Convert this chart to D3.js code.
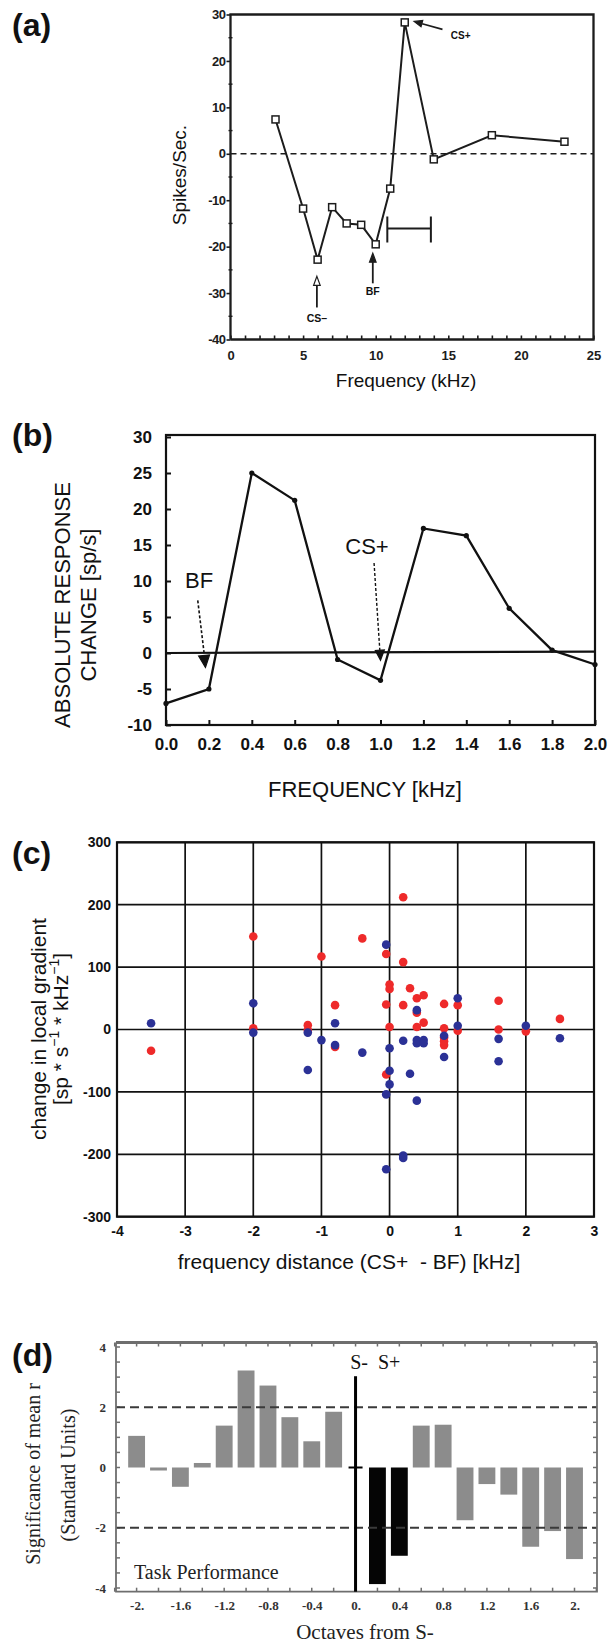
<!DOCTYPE html>
<html><head><meta charset="utf-8">
<script src="https://cdn.jsdelivr.net/npm/d3@7"></script>
<style>body{margin:0;background:#fff} svg{display:block}</style>
</head><body>
<svg id="fig" width="612" height="1643"></svg>
<script>
// ---------------- DATA ----------------
// (a) tuning-curve change
const aFreq   = [3.1, 5, 6, 7, 8, 9, 10, 11, 12, 14, 18, 23];
const aSpikes = [7.4, -11.8, -22.8, -11.5, -15.0, -15.3, -19.5, -7.5, 28.3, -1.2, 4.0, 2.6];
const aXTicks = [0, 5, 10, 15, 20, 25];
const aYTicks = [-40, -30, -20, -10, 0, 10, 20, 30];

// (b) absolute response change
const bFreq   = [0.0, 0.2, 0.4, 0.6, 0.8, 1.0, 1.2, 1.4, 1.6, 1.8, 2.0];
const bChange = [-7.0, -5.0, 25.0, 21.2, -0.9, -3.8, 17.3, 16.3, 6.2, 0.4, -1.6];
const bXTicks = [0.0, 0.2, 0.4, 0.6, 0.8, 1.0, 1.2, 1.4, 1.6, 1.8, 2.0];
const bYTicks = [-10, -5, 0, 5, 10, 15, 20, 25, 30];

// (c) change in local gradient
const cRedX  = [-3.5, -2.0, -2.0, -1.2, -1.2, -1.0, -0.8, -0.8, -0.4, -0.05, -0.05, -0.05, 0.0, 0.0, 0.0, 0.2, 0.2, 0.2, 0.3, 0.4, 0.4, 0.4, 0.5, 0.5, 0.8, 0.8, 0.8, 0.8, 0.8, 1.0, 1.0, 1.6, 1.6, 2.0, 2.5];
const cRedY  = [-34, 149, 2, 7, -1, 117, 39, -28, 146, 121, 40, -72, 72, 65, 4, 212, 108, 39, 66, 50, 27, 4, 55, 11, 41, 2, -13, -19, -25, 39, -2, 46, 0, -3, 17];
const cBlueX = [-3.5, -2.0, -2.0, -1.2, -1.2, -1.0, -0.8, -0.8, -0.4, -0.05, -0.05, -0.05, 0.0, 0.0, 0.0, 0.2, 0.2, 0.2, 0.3, 0.4, 0.4, 0.4, 0.4, 0.5, 0.5, 0.8, 0.8, 1.0, 1.0, 1.6, 1.6, 2.0, 2.5];
const cBlueY = [10, 42, -5, -5, -65, -17, 10, -25, -37, 136, -104, -224, -30, -66, -88, -18, -202, -206, -71, 31, -17, -22, -114, -17, -22, -10, -44, 50, 6, -15, -51, 6, -14];
const cXTicks = [-4, -3, -2, -1, 0, 1, 2, 3];
const cYTicks = [-300, -200, -100, 0, 100, 200, 300];

// (d) significance of mean r
const dOctaves = [-2.0, -1.8, -1.6, -1.4, -1.2, -1.0, -0.8, -0.6, -0.4, -0.2, 0.2, 0.4, 0.6, 0.8, 1.0, 1.2, 1.4, 1.6, 1.8, 2.0];
const dSignif  = [1.05, -0.1, -0.64, 0.15, 1.39, 3.22, 2.72, 1.67, 0.87, 1.85, -3.87, -2.93, 1.39, 1.42, -1.75, -0.55, -0.9, -2.63, -2.11, -3.04];
const dHighlight = [0.2, 0.4];
const dXTicks = [-2, -1.6, -1.2, -0.8, -0.4, 0, 0.4, 0.8, 1.2, 1.6, 2];
const dXTickLabels = ['-2.', '-1.6', '-1.2', '-0.8', '-0.4', '0.', '0.4', '0.8', '1.2', '1.6', '2.'];
const dYTicks = [-4, -2, 0, 2, 4];

const panelLabels = ['(a)', '(b)', '(c)', '(d)'];

// ---------------- DRAW ----------------
const SANS = "'Liberation Sans', Arial, Helvetica, sans-serif";
const SERIF = "'Liberation Serif', 'Times New Roman', serif";
const svg = d3.select('#fig');

function txt(g, x, y, s, o = {}) {
  const t = g.append('text').attr('x', x).attr('y', y).text(s)
    .attr('font-family', o.font || SANS).attr('font-size', o.size || 14)
    .attr('font-weight', o.weight || 'normal').attr('fill', o.fill || '#111')
    .attr('text-anchor', o.anchor || 'middle');
  if (o.rotate) t.attr('transform', `rotate(${o.rotate},${x},${y})`);
  if (o.baseline) t.attr('dominant-baseline', o.baseline);
  return t;
}
function head(g, x1, y1, x2, y2, len, half, fill, stroke) {
  const a = Math.atan2(y2 - y1, x2 - x1);
  const bx = x2 - len * Math.cos(a), by = y2 - len * Math.sin(a);
  const px = -Math.sin(a) * half, py = Math.cos(a) * half;
  g.append('path').attr('d', `M${x2},${y2}L${bx + px},${by + py}L${bx - px},${by - py}Z`)
    .attr('fill', fill).attr('stroke', stroke || fill).attr('stroke-width', 1.2);
}
function styleAxis(sel, font, size, weight, color, sw) {
  sel.select('.domain').remove();
  sel.selectAll('text').attr('font-family', font).attr('font-size', size)
     .attr('font-weight', weight).attr('fill', color);
  sel.selectAll('line').attr('stroke', color).attr('stroke-width', sw);
}

// panel letters
const letterY = [36, 446, 864, 1366];
panelLabels.forEach((s, i) => txt(svg, 12, letterY[i], s, {size: 32, weight: 'bold', anchor: 'start'}));

// ===== (a) =====
{
  const g = svg.append('g');
  const x = d3.scaleLinear().domain([0, 25]).range([230.5, 593.5]);
  const y = d3.scaleLinear().domain([-40, 30]).range([339.5, 14.5]);
  const ink = '#1c1c1c';
  // left axis
  const la = g.append('g').attr('transform', `translate(${x(0)},0)`)
    .call(d3.axisLeft(y).tickValues(aYTicks).tickSize(4).tickPadding(1).tickFormat(d => String(d)));
  styleAxis(la, SANS, 13, 'bold', ink, 1.6);
  la.selectAll('text').attr('letter-spacing', '-0.5');
  // minor y ticks
  g.selectAll('.my').data(d3.range(-35, 30, 10)).join('line')
    .attr('x1', x(0) - 2).attr('x2', x(0) + 2).attr('y1', d => y(d)).attr('y2', d => y(d))
    .attr('stroke', ink).attr('stroke-width', 1.4);
  // bottom axis (inward ticks every kHz)
  const ba = g.append('g').attr('transform', `translate(0,${y(-40)})`)
    .call(d3.axisBottom(x).tickValues(d3.range(0, 26)).tickSizeInner(-4).tickSizeOuter(0).tickPadding(11)
      .tickFormat(d => aXTicks.includes(d) ? String(d) : ''));
  styleAxis(ba, SANS, 13, 'bold', ink, 1.6);
  // frame
  g.append('path').attr('d', `M${x(0)},${y(-40)}V${y(30)}H${x(25)}V${y(-40)}H${x(0)}`)
    .attr('fill', 'none').attr('stroke', ink).attr('stroke-width', 2.3);
  // zero dashed line
  g.append('line').attr('x1', x(0)).attr('x2', x(25)).attr('y1', y(0)).attr('y2', y(0))
    .attr('stroke', ink).attr('stroke-width', 1.6).attr('stroke-dasharray', '6,4');
  // data line + squares
  const pts = aFreq.map((f, i) => [f, aSpikes[i]]);
  g.append('path').datum(pts).attr('d', d3.line().x(d => x(d[0])).y(d => y(d[1])))
    .attr('fill', 'none').attr('stroke', ink).attr('stroke-width', 2);
  g.selectAll('.sq').data(pts).join('rect')
    .attr('x', d => x(d[0]) - 3.5).attr('y', d => y(d[1]) - 3.5).attr('width', 7).attr('height', 7)
    .attr('fill', '#fff').attr('stroke', ink).attr('stroke-width', 1.5);
  // scale bar
  g.append('path').attr('d', `M${x(10.8)},${y(-13.5)}V${y(-19.1)}M${x(10.8)},${y(-16.1)}H${x(13.8)}M${x(13.8)},${y(-13.5)}V${y(-19.1)}`)
    .attr('fill', 'none').attr('stroke', ink).attr('stroke-width', 2);
  // CS+ arrow
  g.append('line').attr('x1', x(14.6)).attr('y1', y(26.8)).attr('x2', x(13.2)).attr('y2', y(28.0))
    .attr('stroke', ink).attr('stroke-width', 1.6);
  head(g, x(14.6), y(26.8), x(12.65), y(28.5), 8, 3.2, ink);
  txt(g, x(15.85), y(25.3), 'CS+', {size: 10, weight: 'bold', baseline: 'middle'});
  // CS- open arrow
  g.append('line').attr('x1', x(5.95)).attr('y1', y(-33.1)).attr('x2', x(5.95)).attr('y2', y(-28.3))
    .attr('stroke', ink).attr('stroke-width', 1.8);
  head(g, x(5.95), y(-33), x(5.95), y(-26.4), 9, 3.3, '#fff', ink);
  txt(g, x(5.95), y(-35.6), 'CS\u2013', {size: 10.5, weight: 'bold', baseline: 'middle'});
  // BF arrow
  g.append('line').attr('x1', x(9.8)).attr('y1', y(-27.9)).attr('x2', x(9.8)).attr('y2', y(-23))
    .attr('stroke', ink).attr('stroke-width', 1.8);
  head(g, x(9.8), y(-27.9), x(9.8), y(-21.4), 9, 3.3, ink);
  txt(g, x(9.8), y(-29.9), 'BF', {size: 10.5, weight: 'bold', baseline: 'middle'});
  // titles
  txt(g, 181, 175, 'Spikes/Sec.', {size: 19, rotate: -90, baseline: 'middle'});
  txt(g, 406, 387, 'Frequency (kHz)', {size: 19});
}

// ===== (b) =====
{
  const g = svg.append('g');
  const x = d3.scaleLinear().domain([0, 2]).range([166, 595]);
  const y = d3.scaleLinear().domain([-10, 30]).range([725, 437]);
  const ink = '#111';
  const la = g.append('g').attr('transform', `translate(${x(0)},0)`)
    .call(d3.axisLeft(y).tickValues(bYTicks).tickSizeInner(-5).tickSizeOuter(0).tickPadding(14).tickFormat(d => String(d)));
  styleAxis(la, SANS, 17, 'bold', ink, 2);
  const ba = g.append('g').attr('transform', `translate(0,${y(-10)})`)
    .call(d3.axisBottom(x).tickValues(bXTicks).tickSizeInner(-5).tickSizeOuter(0).tickPadding(13).tickFormat(d3.format('.1f')));
  styleAxis(ba, SANS, 17, 'bold', ink, 2);
  g.append('rect').attr('x', x(0)).attr('y', 435).attr('width', x(2) - x(0)).attr('height', y(-10) - 435)
    .attr('fill', 'none').attr('stroke', ink).attr('stroke-width', 2.2);
  g.append('line').attr('x1', x(0)).attr('x2', x(2)).attr('y1', y(0)).attr('y2', y(0.2))
    .attr('stroke', ink).attr('stroke-width', 2.2);
  const pts = bFreq.map((f, i) => [f, bChange[i]]);
  g.append('path').datum(pts).attr('d', d3.line().x(d => x(d[0])).y(d => y(d[1])))
    .attr('fill', 'none').attr('stroke', ink).attr('stroke-width', 2.3);
  g.selectAll('.dot').data(pts).join('circle').attr('cx', d => x(d[0])).attr('cy', d => y(d[1]))
    .attr('r', 2.6).attr('fill', ink);
  // BF
  txt(g, x(0.154), y(9.8), 'BF', {size: 22, baseline: 'middle'});
  g.append('line').attr('x1', x(0.148)).attr('y1', y(7.3)).attr('x2', x(0.18)).attr('y2', y(-0.6))
    .attr('stroke', ink).attr('stroke-width', 1.6).attr('stroke-dasharray', '3,2');
  head(g, x(0.148), y(7.3), x(0.184), y(-2.0), 12, 5.5, ink);
  // CS+
  txt(g, x(0.937), y(14.6), 'CS+', {size: 22, baseline: 'middle'});
  g.append('line').attr('x1', x(0.97)).attr('y1', y(12.5)).attr('x2', x(0.997)).attr('y2', y(0.3))
    .attr('stroke', ink).attr('stroke-width', 1.4).attr('stroke-dasharray', '3,2');
  head(g, x(0.97), y(12.5), x(1.0), y(-1.0), 10, 4.5, ink);
  // titles
  txt(g, 64, 605, 'ABSOLUTE RESPONSE', {size: 22, rotate: -90, baseline: 'middle'});
  txt(g, 90, 605, 'CHANGE [sp/s]', {size: 22, rotate: -90, baseline: 'middle'});
  txt(g, 365, 797, 'FREQUENCY [kHz]', {size: 22});
}

// ===== (c) =====
{
  const g = svg.append('g');
  const x = d3.scaleLinear().domain([-4, 3]).range([117, 594]);
  const y = d3.scaleLinear().domain([-300, 300]).range([1216.7, 842.3]);
  const ink = '#111';
  g.selectAll('.gx').data(cXTicks).join('line').attr('x1', d => x(d)).attr('x2', d => x(d))
    .attr('y1', y(300)).attr('y2', y(-300)).attr('stroke', ink).attr('stroke-width', 1.7);
  g.selectAll('.gy').data(cYTicks).join('line').attr('y1', d => y(d)).attr('y2', d => y(d))
    .attr('x1', x(-4)).attr('x2', x(3)).attr('stroke', ink).attr('stroke-width', 1.7);
  g.append('rect').attr('x', x(-4)).attr('y', y(300)).attr('width', x(3) - x(-4)).attr('height', y(-300) - y(300))
    .attr('fill', 'none').attr('stroke', ink).attr('stroke-width', 2.2);
  const la = g.append('g').attr('transform', `translate(${x(-4)},0)`)
    .call(d3.axisLeft(y).tickValues(cYTicks).tickSize(0).tickPadding(6).tickFormat(d => String(d)));
  styleAxis(la, SANS, 14, 'bold', ink, 0);
  const ba = g.append('g').attr('transform', `translate(0,${y(-300)})`)
    .call(d3.axisBottom(x).tickValues(cXTicks).tickSize(0).tickPadding(9).tickFormat(d => String(d)));
  styleAxis(ba, SANS, 14, 'bold', ink, 0);
  const red = cRedX.map((v, i) => [v, cRedY[i]]);
  const blue = cBlueX.map((v, i) => [v, cBlueY[i]]);
  g.selectAll('.rd').data(red).join('circle').attr('cx', d => x(d[0])).attr('cy', d => y(d[1]))
    .attr('r', 4.3).attr('fill', '#ee2a2a');
  g.selectAll('.bl').data(blue).join('circle').attr('cx', d => x(d[0])).attr('cy', d => y(d[1]))
    .attr('r', 4.3).attr('fill', '#2b3196');
  txt(g, 40, 1029, 'change in local gradient', {size: 21, rotate: -90, baseline: 'middle'});
  const t2 = txt(g, 62, 1029, '', {size: 21, rotate: -90, baseline: 'middle'});
  t2.append('tspan').text('[sp * s');
  t2.append('tspan').text('\u22121').attr('font-size', 14).attr('dy', -7);
  t2.append('tspan').text(' * kHz').attr('dy', 7);
  t2.append('tspan').text('\u22121').attr('font-size', 14).attr('dy', -7);
  t2.append('tspan').text(']').attr('dy', 7);
  txt(g, 349, 1269, 'frequency distance (CS+  - BF) [kHz]', {size: 21}).attr('xml:space', 'preserve');
}

// ===== (d) =====
{
  const g = svg.append('g');
  const x = d3.scaleLinear().domain([-2, 2]).range([136.6, 574.5]);
  const y = d3.scaleLinear().domain([-4, 4]).range([1588, 1347]);
  const L = 116, R = 597, T = 1342.5, B = 1591.7;
  const frame = '#6e6e6e';
  const tickTop = d3.range(-2.2, 2.21, 0.2);
  g.selectAll('.tt').data(tickTop).join('line').attr('x1', d => x(d)).attr('x2', d => x(d))
    .attr('y1', T).attr('y2', T + 4).attr('stroke', frame).attr('stroke-width', 1.5);
  g.selectAll('.tb').data(tickTop).join('line').attr('x1', d => x(d)).attr('x2', d => x(d))
    .attr('y1', B).attr('y2', B - 4).attr('stroke', frame).attr('stroke-width', 1.5);
  const tickSide = d3.range(-4, 4.01, 0.5);
  g.selectAll('.tl').data(tickSide).join('line').attr('y1', d => y(d)).attr('y2', d => y(d))
    .attr('x1', L).attr('x2', L + 4).attr('stroke', frame).attr('stroke-width', 1.5);
  g.selectAll('.tr').data(tickSide).join('line').attr('y1', d => y(d)).attr('y2', d => y(d))
    .attr('x1', R).attr('x2', R - 4).attr('stroke', frame).attr('stroke-width', 1.5);
  // bars
  const bw = (x(0.2) - x(0)) * 0.77;
  g.selectAll('.bar').data(dOctaves.map((o, i) => [o, dSignif[i]])).join('rect')
    .attr('x', d => x(d[0]) - bw / 2).attr('width', bw)
    .attr('y', d => y(Math.max(0, d[1]))).attr('height', d => Math.abs(y(d[1]) - y(0)))
    .attr('fill', d => dHighlight.includes(d[0]) ? '#050505' : '#8c8c8c');
  // dashed significance lines
  [2, -2].forEach(v => g.append('line').attr('x1', L).attr('x2', R).attr('y1', y(v)).attr('y2', y(v))
    .attr('stroke', '#3a3a3a').attr('stroke-width', 2).attr('stroke-dasharray', '9,5'));
  // frame
  g.append('path').attr('d', `M${L},${T}H${R}`).attr('stroke', frame).attr('stroke-width', 3);
  g.append('path').attr('d', `M${L},${T}V${B}H${R}V${T}`).attr('fill', 'none').attr('stroke', frame).attr('stroke-width', 1.8);
  // S- / S+ divider
  g.append('line').attr('x1', x(0)).attr('x2', x(0)).attr('y1', y(3.03)).attr('y2', B)
    .attr('stroke', '#000').attr('stroke-width', 3);
  g.append('line').attr('x1', x(0) - 7).attr('x2', x(0) + 7).attr('y1', y(0)).attr('y2', y(0))
    .attr('stroke', '#000').attr('stroke-width', 2);
  txt(g, x(0.18), 1369, 'S-  S+', {font: SERIF, size: 20}).attr('xml:space', 'preserve');
  // axes labels
  const la = g.append('g').attr('transform', `translate(${L},0)`)
    .call(d3.axisLeft(y).tickValues(dYTicks).tickSize(0).tickPadding(10).tickFormat(d => String(d)));
  styleAxis(la, SERIF, 13, 'bold', '#333', 0);
  const ba = g.append('g').attr('transform', `translate(0,${B})`)
    .call(d3.axisBottom(x).tickValues(dXTicks).tickSize(0).tickPadding(9).tickFormat((d, i) => dXTickLabels[i]));
  styleAxis(ba, SERIF, 13, 'bold', '#333', 0);
  txt(g, 134, 1579, 'Task Performance', {font: SERIF, size: 20, anchor: 'start', fill: '#222'});
  txt(g, 365, 1639, 'Octaves from S-', {font: SERIF, size: 21, fill: '#222'});
  txt(g, 35, 1474, 'Significance of mean r', {font: SERIF, size: 20, rotate: -90, baseline: 'middle', fill: '#222'});
  txt(g, 70, 1475, '(Standard Units)', {font: SERIF, size: 20, rotate: -90, baseline: 'middle', fill: '#222'});
}
</script>
</body></html>
